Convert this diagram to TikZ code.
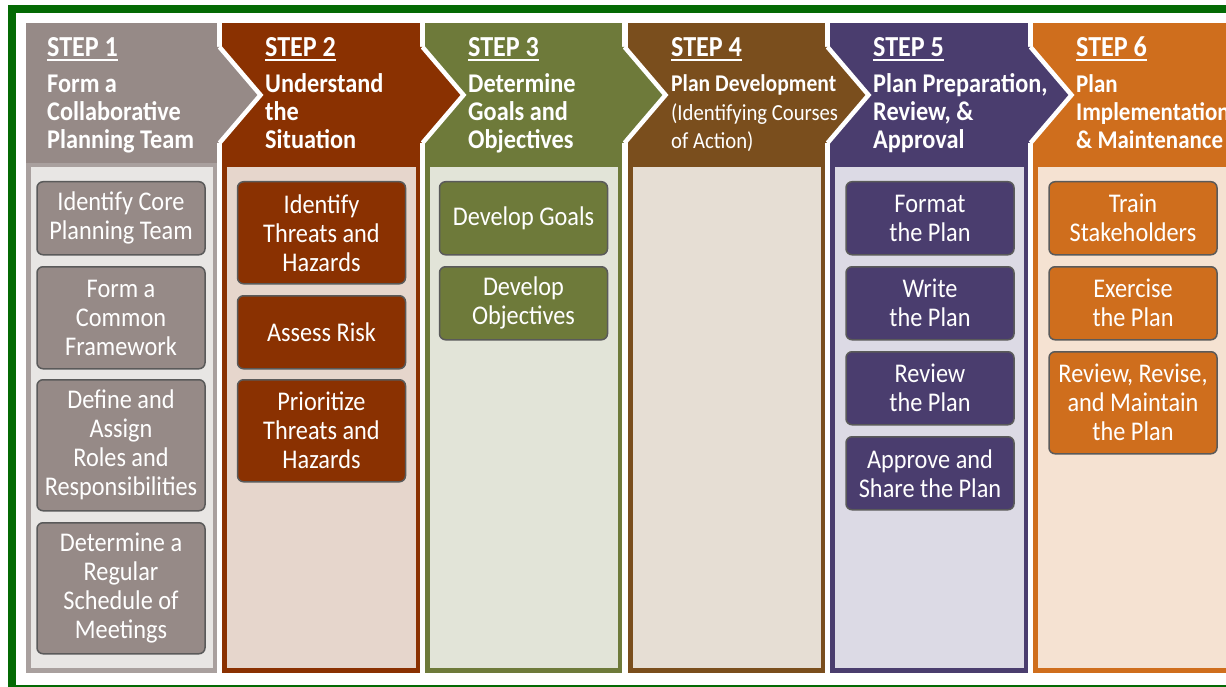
\documentclass[tikz,border=0pt]{standalone}
\usepackage{fontspec}
\setmainfont{Carlito}
\newfontfamily\cf[FakeStretch=0.9]{Carlito}
\definecolor{frame}{HTML}{046A04}
\definecolor{ca}{HTML}{968A87}\definecolor{cab}{HTML}{A9A09E}\definecolor{cal}{HTML}{E8E6E4}
\definecolor{cb}{HTML}{8A3101}\definecolor{cbl}{HTML}{E6D6CC}
\definecolor{cc}{HTML}{6E7A3A}\definecolor{ccl}{HTML}{E2E4D8}
\definecolor{cd}{HTML}{7A4E1D}\definecolor{cdl}{HTML}{E6DED4}
\definecolor{ce}{HTML}{4A3D6E}\definecolor{cel}{HTML}{DCDAE5}
\definecolor{cf}{HTML}{CF6E1D}\definecolor{cfl}{HTML}{F5E2D2}
\definecolor{boxline}{HTML}{5A5A5A}
\newcommand\colpanel[5]{%
  \fill[#3] (#1,23) rectangle (#2,167);
  \fill[#4] (#1,163) rectangle (#2,673);
  \fill[#5] (#1+4.5,167) rectangle (#2-4.5,668);
}
\newcommand\chevron[2]{%
  \fill[#2] (#1-2,47) -- (#1+2.5,47) -- (#1+43.5,95) -- (#1+2.5,143) -- (#1-2,143) -- cycle;
  \draw[white, line width=4.5pt] (#1+2.5,47) -- (#1+43.5,95) -- (#1+2.5,143);
}
\tikzset{
  hdr/.style={text=white, font=\cf\bfseries\fontsize{27}{28}\selectfont, align=left, inner sep=0pt, anchor=base west},
  hdrsmall/.style={text=white, font=\cf\fontsize{23}{28.5}\selectfont, align=left, inner sep=0pt, anchor=base west},
  steplbl/.style={text=white, font=\cf\bfseries\fontsize{29}{29}\selectfont, inner sep=0pt, anchor=base west},
  uline/.style={white, line width=2pt},
  tbox/.style={rounded corners=6pt, draw=boxline, line width=1.5pt, text=white,
    font=\cf\fontsize{27}{29}\selectfont, align=center, minimum width=168pt, inner sep=0pt, anchor=north},
  two/.style={tbox, minimum height=73pt},
  three/.style={tbox, minimum height=102pt},
  four/.style={tbox, minimum height=131pt},
}
\begin{document}
\begin{tikzpicture}[x=1pt,y=-1pt]
\useasboundingbox (0,0) rectangle (1226,687);
\clip (0,0) rectangle (1226,687);
\fill[white] (0,0) rectangle (1226,687);
% columns
\colpanel{26}{217}{ca}{cab}{cal}
\colpanel{222}{420}{cb}{cb}{cbl}
\colpanel{425}{622}{cc}{cc}{ccl}
\colpanel{628}{825}{cd}{cd}{cdl}
\colpanel{830}{1028}{ce}{ce}{cel}
\colpanel{1033}{1250}{cf}{cf}{cfl}
\chevron{217}{ca}
\chevron{420}{cb}
\chevron{622}{cc}
\chevron{825}{cd}
\chevron{1028}{ce}
% frame
\draw[frame, line width=8pt] (12,9) rectangle (1300,689);
% headers
\node[steplbl] (s1) at (47,57) {STEP 1};
\node[steplbl] (s2) at (265,57) {STEP 2};
\node[steplbl] (s3) at (468,57) {STEP 3};
\node[steplbl] (s4) at (671,57) {STEP 4};
\node[steplbl] (s5) at (873,57) {STEP 5};
\node[steplbl] (s6) at (1076,57) {STEP 6};
\foreach \s in {s1,s2,s3,s4,s5,s6}
  \draw[uline] ([yshift=-3pt]\s.base west) -- ([yshift=-3pt]\s.base east);
\node[hdr] (h1) at (47,149) {Form a\\Collaborative\\Planning Team};
\node[hdr] (h2) at (265,149) {Understand\\the\\Situation};
\node[hdr] (h3) at (468,149) {Determine\\Goals and\\Objectives};
\node[hdrsmall] (h4) at (671,149) {{\bfseries\fontsize{24}{28.5}\selectfont Plan Development}\\(Identifying Courses\\of Action)};
\node[hdr] (h5) at (873,149) {Plan Preparation,\\Review, \&\\Approval};
\node[hdr, font=\cf\bfseries\fontsize{25.5}{28}\selectfont] (h6) at (1076,149) {Plan\\Implementation\\\& Maintenance};
% step 1 boxes
\node[two, fill=ca] (b11) at (121,181) {Identify Core\\Planning Team};
\node[three, fill=ca] (b12) at (121,266) {Form a\\Common\\Framework};
\node[four, fill=ca] (b13) at (121,379) {Define and\\Assign\\Roles and\\Responsibilities};
\node[four, fill=ca] (b14) at (121,522) {Determine a\\Regular\\Schedule of\\Meetings};
% step 2 boxes
\node[three, fill=cb] (b21) at (321.5,181) {Identify\\Threats and\\Hazards};
\node[two, fill=cb] (b22) at (321.5,295) {Assess Risk};
\node[three, fill=cb] (b23) at (321.5,379) {Prioritize\\Threats and\\Hazards};
% step 3 boxes
\node[two, fill=cc] (b31) at (523.5,181) {Develop Goals};
\node[two, fill=cc] (b32) at (523.5,266) {Develop\\Objectives};
% step 5 boxes
\node[two, fill=ce] (b51) at (930,181) {Format\\the Plan};
\node[two, fill=ce] (b52) at (930,266) {Write\\the Plan};
\node[two, fill=ce] (b53) at (930,351) {Review\\the Plan};
\node[two, fill=ce] (b54) at (930,436) {Approve and\\Share the Plan};
% step 6 boxes
\node[two, fill=cf] (b61) at (1133,181) {Train\\Stakeholders};
\node[two, fill=cf] (b62) at (1133,266) {Exercise\\the Plan};
\node[three, fill=cf] (b63) at (1133,351) {Review, Revise,\\and Maintain\\the Plan};
\end{tikzpicture}
\end{document}
